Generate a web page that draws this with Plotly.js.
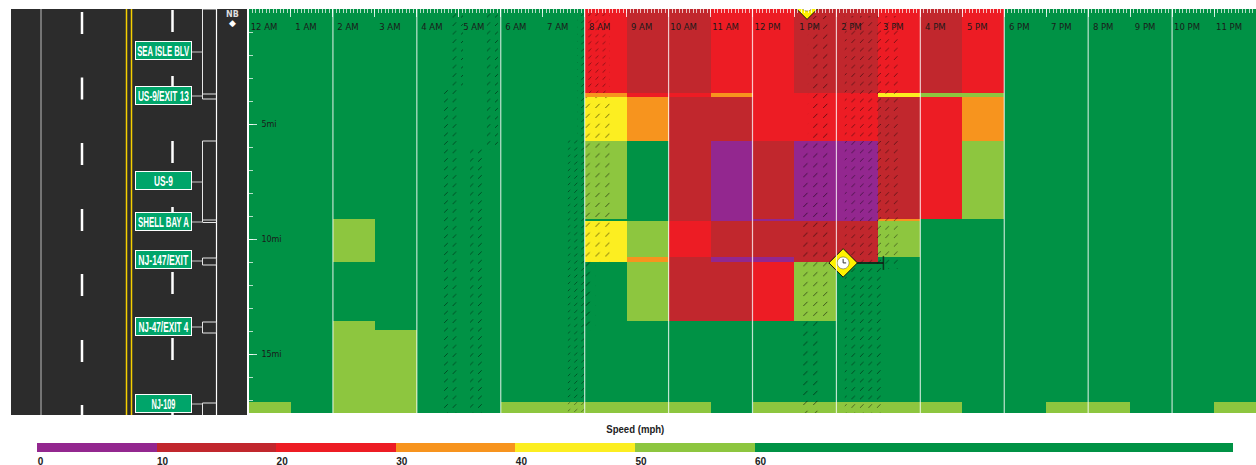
<!DOCTYPE html>
<html>
<head>
<meta charset="utf-8">
<script src="https://cdn.plot.ly/plotly-3.0.1.min.js"></script>
<style>html,body{margin:0;padding:0;background:#fff;}#chart{width:1256px;height:465px;}</style>
</head>
<body>
<div id="chart"></div>
<script>
// ---- Data ----
var hourEdges = [0,1,2,3,4,5,6,7,8,9,10,11,12,13,14,15,16,17,18,19,20,21,22,23,24];
var hourLabels = ['12 AM','1 AM','2 AM','3 AM','4 AM','5 AM','6 AM','7 AM','8 AM','9 AM','10 AM','11 AM','12 PM','1 PM','2 PM','3 PM','4 PM','5 PM','6 PM','7 PM','8 PM','9 PM','10 PM','11 PM'];
var hourTicks = [0,1,2,3,4,5,6,7,8,9,10,11,12,13,14,15,16,17,18,19,20,21,22,23];
var gridHours = [2,4,6,8,10,12,14,16,18,20,22];
var mileEdges = [0,3.65,3.83,5.74,9.13,9.22,10.78,11.0,13.57,13.96,17.09,17.57];
var mileTicks = [5,10,15];
var mileLabels = ['5mi','10mi','15mi'];
// speed (mph) per road segment, one value per hour
var seg1  = [65,65,65,65,65,65,65,65,25,15,15,25,25,15,15,25,15,25,65,65,65,65,65,65];
var seg2  = [65,65,65,65,65,65,65,65,35,25,25,35,25,25,25,45,55,55,65,65,65,65,65,65];
var seg3  = [65,65,65,65,65,65,65,65,45,35,15,15,25,25,25,15,25,35,65,65,65,65,65,65];
var seg4  = [65,65,65,65,65,65,65,65,55,65,15, 5,15, 5, 5,15,25,55,65,65,65,65,65,65];
var seg5  = [65,65,55,65,65,65,65,65,65,65,15, 5, 5, 5, 5,35,65,65,65,65,65,65,65,65];
var seg6  = [65,65,55,65,65,65,65,65,45,55,25,15,15,15,15,55,65,65,65,65,65,65,65,65];
var seg7  = [65,65,55,65,65,65,65,65,45,35,15, 5, 5,15,15,65,65,65,65,65,65,65,65,65];
var seg8  = [65,65,65,65,65,65,65,65,65,55,15,15,25,55,65,65,65,65,65,65,65,65,65,65];
var seg9  = [65,65,55,65,65,65,65,65,65,65,65,65,65,65,65,65,65,65,65,65,65,65,65,65];
var seg10 = [65,65,55,55,65,65,65,65,65,65,65,65,65,65,65,65,65,65,65,65,65,65,65,65];
var seg11 = [55,65,55,55,65,65,55,55,55,55,55,65,55,55,55,55,55,65,65,55,55,65,65,55];

var speedStops = [0,10,20,30,40,50,60,100];
var speedColors = ['#93278f','#c1272d','#ed1c24','#f7941e','#fcee21','#8dc63f','#009245'];
var legendLabels = ['0','10','20','30','40','50','60'];
var legendLabelPos = [0.3,10.5,20.5,30.5,40.5,50.5,60.5];

// hatched bands: start hour, end hour, first mile, last mile, dash spacing
var hatchStartHour = [4.79,4.62,5.67,5.27,7.82,7.60,8.00,8.00,8.00,13.32,13.13,13.13,14.20,15.04];
var hatchEndHour   = [5.10,5.03,5.93,5.58,8.00,8.00,8.60,8.60,8.25,13.85,13.85,13.65,15.10,15.50];
var hatchStartMile = [0,3.5,0,6.1,0,5.7,0,3.83,11,0.3,5.7,13.5,0.3,0.3];
var hatchEndMile   = [3.5,17.57,6.1,17.57,5.7,17.57,3.65,11,14,5.7,13.5,17.57,17.57,11.3];
var hatchSpacing   = [6,6,6,6,5,5,5,7,7,7,7,7,6,6];

// clock markers (hour, mile) and the span line of the lower one
var clockHour = [13.3,14.16];
var clockMile = [-0.17,11.04];
var spanHour = [14.16,15.12];
var spanMile = [11.04,11.04];

// road diagram, in its own scale
var signNames = ['SEA ISLE BLV','US-9/EXIT 13','US-9','SHELL BAY A','NJ-147/EXIT','NJ-47/EXIT 4','NJ-109'];
var signPos = [50,95,180,221,259.5,326,403];
var signTextWidth = [52,51,19,51,50,50,24];
var stubPos = [52,96,182,222,261,327,404];
var leftDashes = [12,77.5,143,209,274,340,405];
var rightDashes = [10,76,141,207,272,338,413];

// ---- Build ----
var baseFont = 'Liberation Sans, Arial, sans-serif';
var colorscale = [];
speedColors.forEach(function(c,i){
  colorscale.push([speedStops[i]/100,c]);
  colorscale.push([speedStops[i+1]/100,c]);
});
var traces = [];
traces.push({
  type:'heatmap', x:hourEdges, y:mileEdges,
  z:[seg1,seg2,seg3,seg4,seg5,seg6,seg7,seg8,seg9,seg10,seg11],
  zmin:0, zmax:100, zsmooth:false, colorscale:colorscale, hoverinfo:'skip',
  colorbar:{orientation:'h', lenmode:'pixels', len:1196, thickness:9, thicknessmode:'pixels',
    x:635/1256, xanchor:'center', xref:'paper', y:22/465, yanchor:'top', yref:'paper', xpad:0, ypad:0,
    outlinewidth:0, borderwidth:0, ticks:'', ticklen:0, tickvals:legendLabelPos, ticktext:legendLabels,
    tickfont:{family:baseFont, size:10, color:'#222', weight:'bold'}}
});
traces.push({
  type:'bar', orientation:'v',
  x:hatchStartHour.map(function(h,i){return (h+hatchEndHour[i])/2;}),
  width:hatchStartHour.map(function(h,i){return hatchEndHour[i]-h;}),
  y:hatchStartMile.map(function(m,i){return hatchEndMile[i]-m;}),
  base:hatchStartMile, hoverinfo:'skip', showlegend:false,
  marker:{color:'rgba(0,0,0,0)', line:{width:0},
    pattern:{shape:'/', fgcolor:'#000', fgopacity:1, bgcolor:'rgba(0,0,0,0)', size:hatchSpacing, solidity:0.08}}
});
traces.push({
  type:'scatter', mode:'lines+markers', x:spanHour, y:spanMile, hoverinfo:'skip', showlegend:false,
  line:{color:'#111', width:1.5},
  marker:{symbol:'line-ns', size:[1,10], color:'#111', line:{color:'#111', width:1.5}}
});
traces.push({
  type:'scatter', mode:'markers', x:clockHour, y:clockMile, hoverinfo:'skip', showlegend:false,
  marker:{symbol:'diamond', size:22, color:'#fff200', line:{color:'#111', width:1}}
});
traces.push({
  type:'scatter', mode:'markers', x:clockHour, y:clockMile, hoverinfo:'skip', showlegend:false,
  marker:{symbol:'circle', size:12, color:'#fff', line:{color:'#444', width:0.5}}
});
traces.push({type:'scatter', mode:'none', x:[11,247], y:[9,415], xaxis:'x2', yaxis:'y2', hoverinfo:'skip', showlegend:false});

var shapes = [];
function rd(type,x0,y0,x1,y1,o){
  var s = {type:type, xref:'x2', yref:'y2', x0:x0, y0:y0, x1:x1, y1:y1, layer:'below'};
  for (var k in o) s[k]=o[k];
  shapes.push(s);
}
rd('rect',11,9,247,415,{fillcolor:'#2c2c2c', line:{width:0}});
rd('line',41,9,41,415,{line:{color:'#bdbdbd',width:1}});
rd('line',126.5,9,126.5,415,{line:{color:'#f5d000',width:1.5}});
rd('line',131.5,9,131.5,415,{line:{color:'#f5d000',width:1.5}});
leftDashes.forEach(function(y){ rd('line',82,y,82,y+22,{line:{color:'#fff',width:2.5}}); });
rightDashes.forEach(function(y){ rd('line',172.5,y,172.5,y+22,{line:{color:'#fff',width:2.5}}); });
var wl = {line:{color:'#e8e8e8',width:1}};
rd('line',216.5,9,216.5,415,{line:{color:'#fff',width:1.2}});
rd('line',202.5,9,216.5,9,wl);
rd('line',202.5,9,202.5,99,wl);
rd('line',202.5,94,216.5,94,wl);
rd('line',202.5,99,216.5,99,wl);
rd('line',202.5,141,216.5,141,wl);
rd('line',202.5,141,202.5,222,wl);
rd('line',202.5,220,216.5,220,wl);
rd('line',202.5,222.5,216.5,222.5,wl);
rd('rect',202.5,258,216.5,265,{line:{color:'#e8e8e8',width:1}});
rd('rect',202.5,322,216.5,333,{line:{color:'#e8e8e8',width:1}});
rd('line',202.5,403,216.5,403,wl);
rd('line',202.5,403,202.5,415,wl);
stubPos.forEach(function(y){ rd('line',192,y,202.5,y,{line:{color:'#c8c8c8',width:1}}); });
// two-hour white guide lines over the speed grid
gridHours.forEach(function(h){
  shapes.push({type:'line', xref:'x', yref:'paper', x0:h, x1:h, y0:52/465, y1:456/465,
    layer:'above', line:{color:'rgba(255,255,255,0.75)', width:1.2}});
});
// clock hands
clockHour.forEach(function(h,i){
  shapes.push({type:'line', xref:'x', yref:'y', xsizemode:'pixel', ysizemode:'pixel', xanchor:h, yanchor:clockMile[i],
    x0:0, x1:0, y0:0, y1:4, layer:'above', line:{color:'#333', width:1}});
  shapes.push({type:'line', xref:'x', yref:'y', xsizemode:'pixel', ysizemode:'pixel', xanchor:h, yanchor:clockMile[i],
    x0:0, x1:3, y0:0, y1:0, layer:'above', line:{color:'#333', width:1}});
});

var annotations = signNames.map(function(name,i){
  return {xref:'x2', yref:'y2', x:163.5, y:signPos[i], text:name, showarrow:false,
    width:55, height:17, bgcolor:'#00a56a', bordercolor:'#fff', borderwidth:1, borderpad:0,
    xanchor:'center', yanchor:'middle',
    font:{family:baseFont, size:14, color:'#fff', weight:'bold'}};
});
annotations.push({xref:'x2', yref:'y2', x:232, y:14, text:'NB', showarrow:false,
  font:{family:'DejaVu Sans, sans-serif', size:8, color:'#ddd', weight:'bold'}});
annotations.push({xref:'x2', yref:'y2', x:232, y:22.5, text:'◆', showarrow:false,
  font:{family:'DejaVu Sans, sans-serif', size:9, color:'#fff'}});
annotations.push({xref:'paper', yref:'paper', x:635/1256, y:36/465, yanchor:'middle', xanchor:'center', text:'Speed (mph)', showarrow:false,
  font:{family:baseFont, size:11, color:'#222', weight:'bold'}});

var layout = {
  width:1256, height:465, margin:{l:0,r:0,t:0,b:0,pad:0,autoexpand:false},
  paper_bgcolor:'#fff', plot_bgcolor:'#fff', showlegend:false, barmode:'overlay',
  font:{family:'DejaVu Sans, sans-serif'},
  xaxis:{domain:[249/1256,1], range:[0,24], side:'top', anchor:'y', showgrid:false, zeroline:false,
    tickmode:'array', tickvals:hourTicks, ticktext:hourLabels,
    ticks:'inside', ticklen:8, tickcolor:'rgba(255,255,255,0.8)', tickwidth:1,
    ticklabelposition:'inside', ticklabeloverflow:'allow', ticklabelstandoff:6, ticklabelshift:15,
    tickfont:{family:'DejaVu Sans, sans-serif', size:8.5, color:'#1a1a1a'},
    minor:{dtick:1/12, tick0:0, ticks:'inside', ticklen:4, tickcolor:'rgba(255,255,255,0.7)', tickwidth:1, showgrid:false}},
  yaxis:{domain:[52/465,456/465], range:[17.565,0], anchor:'x', showgrid:false, zeroline:false,
    tickmode:'array', tickvals:mileTicks, ticktext:mileLabels,
    ticks:'inside', ticklen:8, tickcolor:'rgba(255,255,255,0.8)', tickwidth:1,
    ticklabelposition:'inside', ticklabeloverflow:'allow', ticklabelstandoff:3,
    tickfont:{family:'DejaVu Sans, sans-serif', size:8, color:'#1a1a1a'},
    showline:true, linecolor:'rgba(255,255,255,0.8)', linewidth:1,
    minor:{dtick:1, tick0:0, ticks:'inside', ticklen:4, tickcolor:'rgba(255,255,255,0.7)', tickwidth:1, showgrid:false}},
  xaxis2:{domain:[11/1256,247/1256], range:[11,247], anchor:'y2', visible:false, fixedrange:true},
  yaxis2:{domain:[50/465,456/465], range:[415,9], anchor:'x2', visible:false, fixedrange:true},
  shapes:shapes, annotations:annotations
};
Plotly.newPlot('chart', traces, layout, {displayModeBar:false, staticPlot:true}).then(function(){
  // condensed lettering on the signs and the legend title; broken hatch strokes
  document.querySelectorAll('.annotation-text').forEach(function(t){
    var i = signNames.indexOf(t.textContent);
    if (i >= 0) { t.setAttribute('textLength', signTextWidth[i]); t.setAttribute('lengthAdjust','spacingAndGlyphs'); }
    if (t.textContent === 'Speed (mph)') { t.setAttribute('textLength', 58); t.setAttribute('lengthAdjust','spacingAndGlyphs'); }
  });
  document.querySelectorAll('pattern').forEach(function(p){
    var d = Math.SQRT2 * parseFloat(p.getAttribute('width'));
    p.querySelectorAll('path').forEach(function(s){
      s.setAttribute('stroke-dasharray', (d*0.42)+' '+(d*0.58));
    });
  });
});
</script>
</body>
</html>
